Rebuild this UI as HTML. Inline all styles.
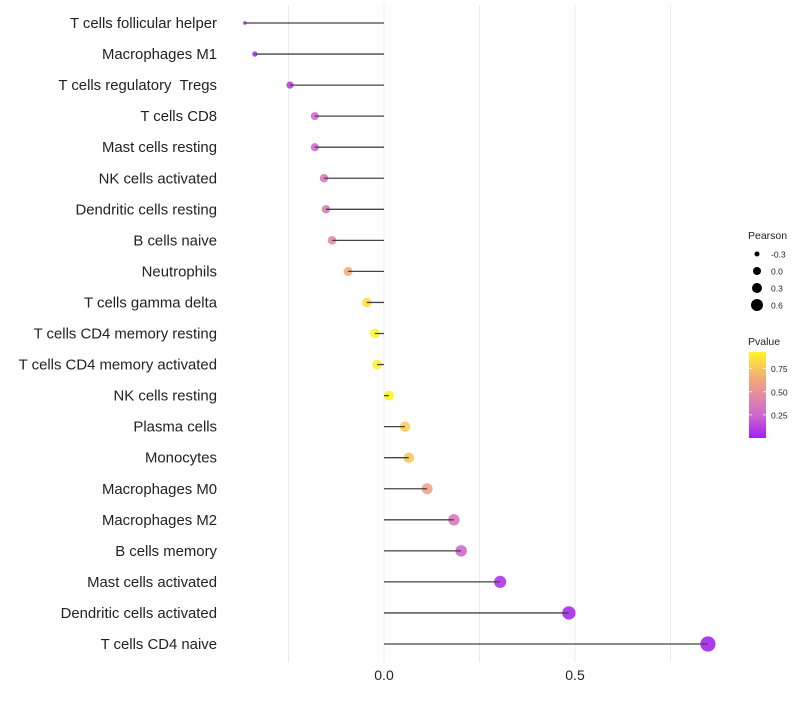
<!DOCTYPE html>
<html><head><meta charset="utf-8"><style>
body{margin:0;background:#fff;font-family:"Liberation Sans",sans-serif}
svg text{font-family:"Liberation Sans",sans-serif}
</style></head><body>
<svg id="chart" width="800" height="700"></svg>
<script>
const categories=["T cells follicular helper","Macrophages M1","T cells regulatory  Tregs","T cells CD8","Mast cells resting","NK cells activated","Dendritic cells resting","B cells naive","Neutrophils","T cells gamma delta","T cells CD4 memory resting","T cells CD4 memory activated","NK cells resting","Plasma cells","Monocytes","Macrophages M0","Macrophages M2","B cells memory","Mast cells activated","Dendritic cells activated","T cells CD4 naive"];
const pearson=[-0.364,-0.338,-0.246,-0.181,-0.181,-0.157,-0.152,-0.136,-0.094,-0.045,-0.024,-0.018,0.013,0.055,0.065,0.113,0.183,0.202,0.304,0.484,0.848];
const pvalues=[0.02,0.04,0.1,0.25,0.25,0.33,0.35,0.43,0.65,0.85,0.92,0.92,0.93,0.78,0.75,0.58,0.33,0.25,0.06,0.02,0.0001];
const xTicks=[0,0.5];
const xGrid=[-0.25,0.25,0.75];
const sizeLegend=[-0.3,0,0.3,0.6];
const colorTicks=[0.75,0.5,0.25];

const NS="http://www.w3.org/2000/svg";
const svg=document.getElementById('chart');
function mk(t,a,p){const e=document.createElementNS(NS,t);for(const k in a)e.setAttribute(k,a[k]);(p||svg).appendChild(e);return e;}
const xS=v=>384+v*382;
const yS=i=>23+i*31.05;
const rS=v=>1.8+5.8*Math.sqrt(Math.max(0,(v+0.364)/1.212));
const pMax=0.93;
const cStops=[[0,[160,32,240]],[0.25,[205,100,210]],[0.5,[228,140,160]],[0.7,[242,172,120]],[1,[255,245,40]]];
function col(p){const t=Math.min(1,Math.max(0,p/pMax));
 for(let i=1;i<cStops.length;i++){if(t<=cStops[i][0]){const [o0,a]=cStops[i-1],[o1,b]=cStops[i];const u=(t-o0)/(o1-o0);
 return `rgb(${a.map((c,k)=>Math.round(c+(b[k]-c)*u)).join(',')})`;}}
 return 'rgb(255,245,40)';}

xGrid.concat(xTicks).forEach(v=>{
 const g=mk('line',{x1:xS(v),x2:xS(v),y1:5,y2:662,stroke:'#ebebeb','stroke-width':1});
 
 
});
xTicks.forEach(v=>{
 const t=mk('text',{x:xS(v),y:680,'text-anchor':'middle','font-size':14,fill:'#222'});
 t.textContent=v.toFixed(1);
 
 
});
categories.forEach((c,i)=>{
 const y=yS(i);
 const t=mk('text',{x:217,y:y+5,'text-anchor':'end','font-size':14.9,fill:'#222'});
 t.textContent=c;
 t.style.whiteSpace='pre';
 
 
 const d=mk('circle',{cx:xS(pearson[i]),cy:y,r:rS(pearson[i]),fill:col(pvalues[i]),'fill-opacity':0.88});
 
 
 const l=mk('line',{x1:xS(0),x2:xS(pearson[i]),y1:y,y2:y,stroke:'#444','stroke-width':1.3});
 
 
});
const lt=mk('text',{x:748,y:239,'font-size':10.5,fill:'#222'});lt.textContent='Pearson';


const legR=[2.5,4,5,6];
sizeLegend.forEach((v,i)=>{
 const y=254+i*17;
 const c=mk('circle',{cx:757,cy:y,r:legR[i],fill:'#000'});
 
 
 const t=mk('text',{x:771,y:y+3.5,'font-size':8.5,fill:'#222'});t.textContent=v.toFixed(1);
 
 
});
const ct=mk('text',{x:748,y:345,'font-size':10.5,fill:'#222'});ct.textContent='Pvalue';


const defs=mk('defs',{});
const gr=mk('linearGradient',{id:'pg',x1:0,y1:1,x2:0,y2:0},defs);
cStops.forEach(s=>mk('stop',{offset:s[0],'stop-color':col(s[0]*pMax)},gr));
const cb=mk('rect',{x:749,y:352,width:17,height:86,fill:'url(#pg)'});


const pY=p=>438-p/pMax*86;
colorTicks.forEach(p=>{
 mk('line',{x1:749,x2:752,y1:pY(p),y2:pY(p),stroke:'#fff','stroke-width':0.8});
 mk('line',{x1:763,x2:766,y1:pY(p),y2:pY(p),stroke:'#fff','stroke-width':0.8});
 const t=mk('text',{x:771,y:pY(p)+3.5,'font-size':8.5,fill:'#222'});t.textContent=p.toFixed(2);
 
 
});
</script>
</body></html>
